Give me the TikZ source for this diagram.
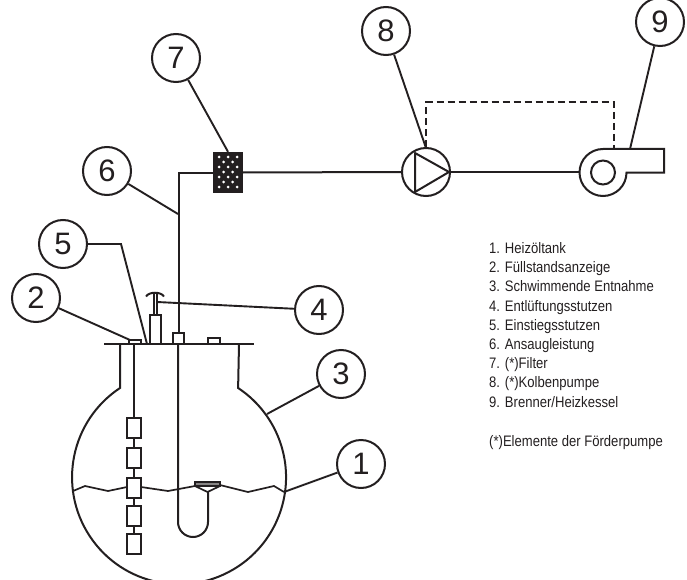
\documentclass[tikz,border=0pt]{standalone}
\usepackage{fontspec}
\setmainfont{Liberation Sans}
\newfontfamily\legendfont[FakeStretch=0.86]{Liberation Sans}
\definecolor{ink}{HTML}{231F20}
\tikzset{
  x=1pt,y=-1pt,
  pipe/.style={draw=ink,line width=2pt},
  thinpipe/.style={draw=ink,line width=1.7pt},
  callout/.style={circle,draw=ink,line width=2pt,fill=white,minimum size=48pt,inner sep=0pt,font=\fontsize{31}{31}\selectfont,text=ink},
  leader/.style={draw=ink,line width=1.9pt},
  partbox/.style={rectangle,draw=ink,line width=2pt,fill=white,inner sep=0pt},
  legend/.style={anchor=base west,inner sep=0pt,text=ink,font=\legendfont\fontsize{15.2}{17}\selectfont},
}
\begin{document}
\begin{tikzpicture}
\clip (0,0) rectangle (687,580);

% tank outline
\draw[pipe] (120,344) -- (120,388) arc[start angle=123.5,end angle=416.5,radius=107pt] -- (239,344);
\draw[pipe] (104,344) -- (254,344);

% fuel level
\draw[thinpipe] (73,491) -- (85,486) -- (108,491) -- (127,487);
\draw[thinpipe] (141,487) -- (168,491) -- (195,486);
\draw[thinpipe] (220,485) -- (248,492) -- (274,486) -- (284,492);

% level gauge
\node[partbox,minimum width=12pt,minimum height=3.5pt] (gaugehead) at (134.5,342) {};
\node[partbox,minimum width=14pt,minimum height=20pt] (g1) at (134,428) {};
\node[partbox,minimum width=14pt,minimum height=20pt] (g2) at (134,458) {};
\node[partbox,minimum width=14pt,minimum height=20pt] (g3) at (134,488) {};
\node[partbox,minimum width=14pt,minimum height=20pt] (g4) at (134,516) {};
\node[partbox,minimum width=14pt,minimum height=20pt] (g5) at (134,544) {};
\draw[pipe] (134,344) -- (g1.north);
\draw[pipe] (g1) -- (g2);
\draw[pipe] (g2) -- (g3);
\draw[pipe] (g3) -- (g4);
\draw[pipe] (g4) -- (g5);

% manhole stub and vent
\node[partbox,minimum width=11pt,minimum height=29pt] (stub) at (155.5,329.5) {};
\draw[thinpipe] (153.8,293) -- (153.8,315);
\draw[thinpipe] (157,293) -- (157,315);
\draw[pipe] (146,296.5) .. controls (149,291.5) and (161,291.5) .. (164,296.5);
\coordinate (ventpoint) at (157,302);

% remaining flange parts
\node[partbox,minimum width=11pt,minimum height=11pt] (pipebox) at (178.5,338.5) {};
\node[partbox,minimum width=12pt,minimum height=6pt] (capbox) at (214,341) {};

% suction pipe and float
\coordinate (ubend) at (178,522);
\draw[pipe] (178,344) -- (ubend) arc[start angle=180,end angle=360,radius=15pt] -- (208,492);
\fill[ink!55] (195,482) rectangle (220,486);
\draw[thinpipe] (195,482) rectangle (220,486);
\draw[thinpipe,line join=round] (195,486) -- (207.5,492) -- (220,486);

% filter
\node[rectangle,fill=ink,minimum width=30pt,minimum height=41pt,inner sep=0pt] (filter) at (228,172.5) {};
\foreach \row/\yy in {0/157,1/162,2/167,3/172,4/177,5/182,6/187}{
  \pgfmathsetmacro{\off}{mod(\row,2)*4.5}
  \foreach \xx in {219,228,237}{
    \pgfmathsetmacro{\dotx}{\xx+\off}
    \ifdim\dotx pt<240pt
      \fill[white] (\dotx,\yy) circle[radius=1.5pt];
    \fi
  }
}

% pump
\node[circle,draw=ink,line width=2pt,minimum size=48pt,inner sep=0pt] (pump) at (426,172) {};
\draw[pipe,line join=round] (415,153) -- (449,172) -- (415,192) -- cycle;

% burner
\coordinate (burnerin) at (580,172);
\draw[pipe] (664,149) -- (603,149) arc[start angle=90,end angle=360,radius=23.5pt] -- (664,172.5) -- cycle;
\node[circle,draw=ink,line width=2pt,minimum size=24pt,inner sep=0pt] (burnerhub) at (603,172.5) {};

% pipe run
\draw[pipe] (pipebox.north) |- (filter.west);
\draw[pipe] (filter.east) -- (pump.west);
\draw[pipe] (pump.east) -- (burnerin);

% dashed link
\coordinate (dashend) at (614,149);
\draw[pipe,dash pattern=on 7pt off 4pt] (pump.north) -- (426,102.5) -| (dashend);

% callouts
\node[callout] (c1) at (361,464) {1};
\node[callout] (c2) at (36,298) {2};
\node[callout] (c3) at (341,374) {3};
\node[callout] (c4) at (319,310) {4};
\node[callout] (c5) at (63,244) {5};
\node[callout] (c6) at (107,171) {6};
\node[callout] (c7) at (176,58) {7};
\node[callout] (c8) at (386,31) {8};
\node[callout] (c9) at (660,22) {9};

% leaders
\coordinate (t1) at (284,492);
\coordinate (t2) at (130,340);
\coordinate (t3) at (267,414);
\coordinate (t5a) at (121,244);
\coordinate (t5b) at (147,344);
\coordinate (t6) at (178,214);
\coordinate (t8) at (426,148);
\coordinate (t9) at (630,149);
\draw[leader] (c1) -- (t1);
\draw[leader] (c2) -- (t2);
\draw[leader] (c3) -- (t3);
\draw[leader] (c4) -- (ventpoint);
\draw[leader] (c5) -- (t5a) -- (t5b);
\draw[leader] (c6) -- (t6);
\draw[leader] (c7) -- (filter.north);
\draw[leader] (c8) -- (t8);
\draw[leader] (c9) -- (t9);

% legend
\node[legend] (l1) at (489,253.5) {1. Heizöltank};
\node[legend] (l2) at (489,272.7) {2. Füllstandsanzeige};
\node[legend] (l3) at (489,291.8) {3. Schwimmende Entnahme};
\node[legend] (l4) at (489,311) {4. Entlüftungsstutzen};
\node[legend] (l5) at (489,330.2) {5. Einstiegsstutzen};
\node[legend] (l6) at (489,349.5) {6. Ansaugleistung};
\node[legend] (l7) at (489,368.7) {7. (*)Filter};
\node[legend] (l8) at (489,387.9) {8. (*)Kolbenpumpe};
\node[legend] (l9) at (489,407) {9. Brenner/Heizkessel};
\node[legend] (l10) at (489,446) {(*)Elemente der Förderpumpe};
\end{tikzpicture}
\end{document}
